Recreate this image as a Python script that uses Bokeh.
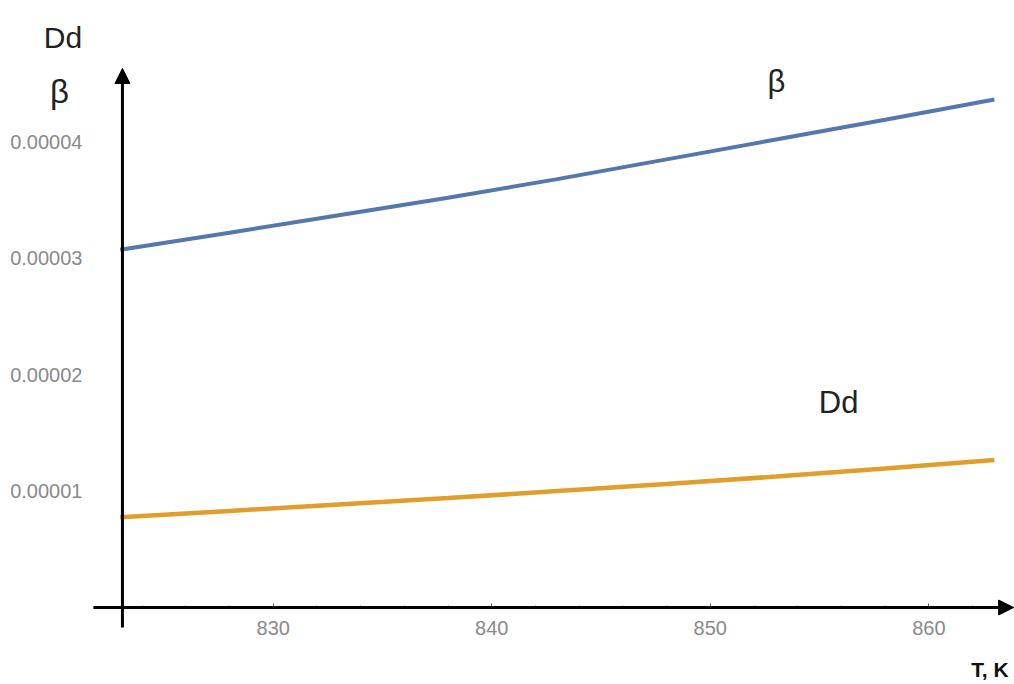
from bokeh.plotting import figure
from bokeh.models import Range1d, FixedTicker, PrintfTickFormatter, Arrow, NormalHead, Label
from bokeh.embed import file_html
from bokeh.resources import INLINE

# ---- data ----
T = [823, 828, 833, 838, 843, 848, 853, 858, 863]
beta = [3.073e-5, 3.22e-5, 3.37e-5, 3.52e-5, 3.68e-5, 3.85e-5, 4.02e-5, 4.19e-5, 4.365e-5]
Dd = [0.776e-5, 0.83e-5, 0.885e-5, 0.94e-5, 1.0e-5, 1.06e-5, 1.125e-5, 1.195e-5, 1.268e-5]

x_ticks = [830, 840, 850, 860]
x_minor = [824, 826, 828, 832, 834, 836, 838, 842, 844, 846, 848, 852, 854, 856, 858, 862]
y_ticks = [0.00001, 0.00002, 0.00003, 0.00004]

# axis origin and visible window (frame fills the whole canvas)
x0, y0 = 823.1, 0.0
x_lo, x_hi = 817.52, 863.92
y_lo, y_hi = -0.6615e-5, 5.2148e-5

p = figure(width=1014, height=684, output_backend="svg", toolbar_location=None,
           x_range=Range1d(x_lo, x_hi), y_range=Range1d(y_lo, y_hi),
           min_border=0)
p.outline_line_color = None
p.grid.visible = False
p.background_fill_color = "white"
p.border_fill_color = "white"

p.line(T, beta, line_width=4, line_color="#5677ad")
p.line(T, Dd, line_width=4.5, line_color="#e09e2c")

tick_font = "Liberation Sans"

xa = p.xaxis[0]
xa.fixed_location = y0
xa.ticker = FixedTicker(ticks=x_ticks, minor_ticks=x_minor)
xa.axis_line_color = None
xa.major_tick_in = 4
xa.major_tick_out = 0
xa.minor_tick_in = 2
xa.minor_tick_out = 0
xa.major_tick_line_color = "#555555"
xa.minor_tick_line_color = "#777777"
xa.major_label_text_font = tick_font
xa.major_label_text_font_size = "20px"
xa.major_label_text_color = "#8a8a8a"
xa.major_label_standoff = 13

ya = p.yaxis[0]
ya.fixed_location = x0
ya.ticker = FixedTicker(ticks=y_ticks)
ya.formatter = PrintfTickFormatter(format="%.5f")
ya.axis_line_color = None
ya.major_tick_in = 0
ya.major_tick_out = 0
ya.minor_tick_line_color = None
ya.major_label_text_font = tick_font
ya.major_label_text_font_size = "20px"
ya.major_label_text_color = "#8a8a8a"
ya.major_label_standoff = 40

# axis arrows
def head():
    return NormalHead(size=15, fill_color="black", fill_alpha=1.0, line_color="black", line_width=1)

p.add_layout(Arrow(end=head(), x_start=x0, y_start=-0.172e-5, x_end=x0, y_end=4.631e-5,
                   line_width=3, line_color="black"))
p.add_layout(Arrow(end=head(), x_start=821.77, y_start=y0, x_end=863.88, y_end=y0,
                   line_width=3, line_color="black"))

lab_font = "Liberation Sans"
p.add_layout(Label(x=853.03, y=4.515e-5, text="β", text_align="center", text_baseline="alphabetic",
                   text_font=lab_font, text_font_size="31px", text_color="#222222"))
p.add_layout(Label(x=855.87, y=1.761e-5, text="Dd", text_align="center", text_baseline="alphabetic",
                   text_font=lab_font, text_font_size="31px", text_color="#222222"))
p.add_layout(Label(x=820.38, y=4.897e-5, text="Dd", text_align="center", text_baseline="alphabetic",
                   text_font=lab_font, text_font_size="30px", text_color="#222222"))
p.add_layout(Label(x=820.22, y=4.433e-5, text="β", text_align="center", text_baseline="alphabetic",
                   text_font=lab_font, text_font_size="33px", text_color="#222222"))
p.add_layout(Label(x=863.65, y=-0.533e-5, text="T, K", text_align="right", text_baseline="alphabetic",
                   text_font=lab_font, text_font_size="21px", text_font_style="bold", text_color="#111111"))

open("out.html", "w").write(file_html(p, INLINE))
